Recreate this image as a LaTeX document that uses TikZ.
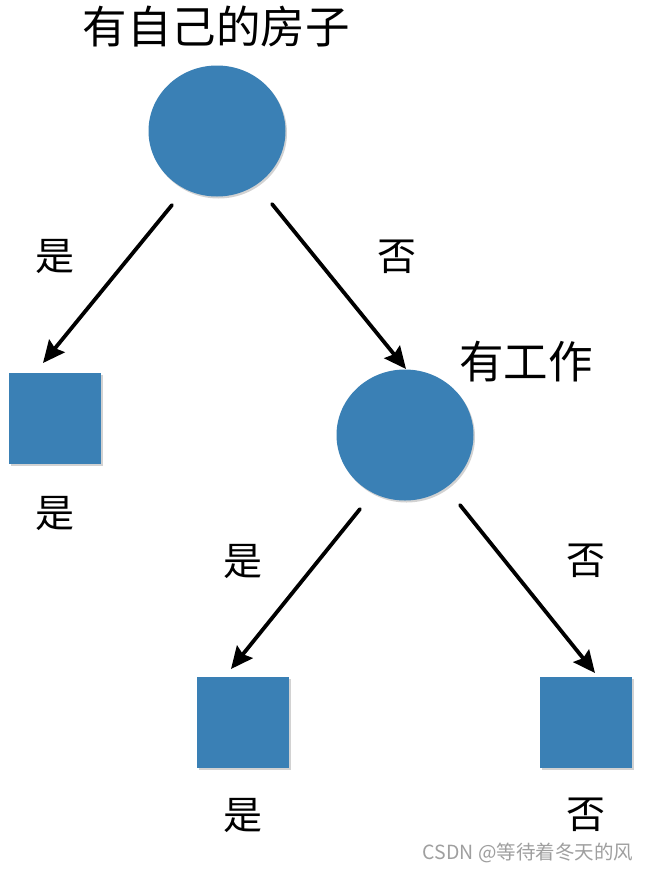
\documentclass[tikz,border=0pt]{standalone}
\usepackage{fontspec}
\setmainfont{Noto Sans CJK SC}
\usetikzlibrary{arrows.meta,shadows,shapes.geometric}
\definecolor{nodeblue}{HTML}{3A80B5}
\tikzset{
  decision/.style={ellipse, fill=nodeblue, minimum width=137pt, minimum height=131pt, inner sep=0pt,
    drop shadow={shadow xshift=1.5pt, shadow yshift=-2pt, opacity=0.35, fill=gray}},
  leafbox/.style={rectangle, fill=nodeblue, minimum width=92pt, minimum height=91pt, inner sep=0pt,
    drop shadow={shadow xshift=1.5pt, shadow yshift=-2pt, opacity=0.35, fill=gray}},
  lab/.style={font=\fontsize{39}{43}\selectfont, inner sep=0pt},
  conn/.style={line width=3.8pt, line cap=round, -{Stealth[length=22pt,width=20pt,inset=3pt]}},
}
\begin{document}
\begin{tikzpicture}[x=1pt,y=-1pt]
\useasboundingbox (0,0) rectangle (649,873);
\fill[white] (0,0) rectangle (649,873);
% nodes
\node[decision] (root) at (217,131) {};
\node[decision] (work) at (405,435) {};
\node[leafbox] (leafA) at (55,418.5) {};
\node[leafbox] (leafB) at (243,722.5) {};
\node[leafbox] (leafC) at (586,722.5) {};
% titles
\node[lab, font=\fontsize{44.5}{48}\selectfont] (t1) at (216,27) {有自己的房子};
\node[lab, font=\fontsize{44.5}{48}\selectfont] (t2) at (526,362) {有工作};
% connector endpoints
\coordinate (s1) at (172,205);
\coordinate (e1) at (43,363);
\coordinate (s2) at (272,204);
\coordinate (e2) at (406,369);
\coordinate (s3) at (360,509);
\coordinate (e3) at (231,669);
\coordinate (s4) at (460,505);
\coordinate (e4) at (595,673);
\draw[conn] (s1) -- (e1);
\draw[conn] (s2) -- (e2);
\draw[conn] (s3) -- (e3);
\draw[conn] (s4) -- (e4);
% edge labels
\node[lab] (l1) at (55,256) {是};
\node[lab] (l2) at (397,257) {否};
\node[lab] (l3) at (243,561) {是};
\node[lab] (l4) at (586,561) {否};
% leaf labels
\node[lab] (v1) at (55,513) {是};
\node[lab] (v2) at (243,815) {是};
\node[lab] (v3) at (586,815) {否};
% watermark
\node[inner sep=0pt, text=gray!75, font=\fontsize{19.5}{22}\selectfont] (wm) at (528,853) {CSDN @等待着冬天的风};
\end{tikzpicture}
\end{document}
